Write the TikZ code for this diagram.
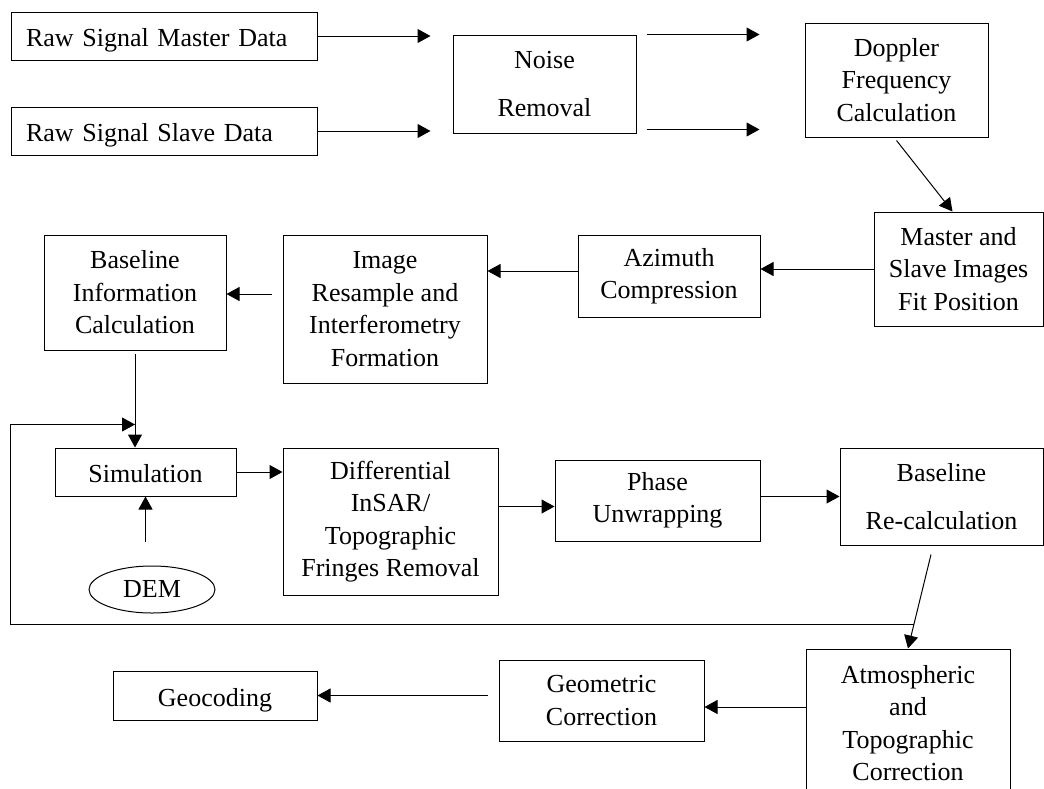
\documentclass[tikz,border=0pt]{standalone}
\usepackage{fontspec}
\setmainfont{Liberation Serif}
\usepackage{tikz}
\usetikzlibrary{shapes.geometric, positioning, arrows.meta, calc}

\begin{document}
\begin{tikzpicture}[
        x=1pt, y=-1pt,
        box/.style={draw, rectangle, align=center, inner sep=0pt, line width=1pt, font=\fontsize{26pt}{32.5pt}\selectfont},
        oneline/.style={text height=21pt, text depth=0pt},
        arr/.style={-{Triangle[length=13pt, width=14pt]}, line width=1pt}
    ]

    \useasboundingbox (0,0) rectangle (1044,788);

    \node[box, oneline, text width=276pt, inner xsep=15pt, minimum height=48pt, align=left] (master) at (164,36) {Raw Signal Master Data};
    \node[box, oneline, text width=276pt, inner xsep=15pt, minimum height=48pt, align=left] (slave) [below=46pt of master] {Raw Signal Slave Data};
    \node[box, minimum width=183pt, minimum height=98pt] (noise) [right=135pt of master, yshift=-48pt] {Noise\\[15.5pt]Removal};
    \node[box, minimum width=183pt, minimum height=114pt] (doppler) [right=168pt of noise, yshift=4pt] {Doppler\\Frequency\\Calculation};
    \node[box, minimum width=169pt, minimum height=114pt] (fit) [below=74pt of doppler, xshift=62pt] {Master and\\Slave Images\\Fit Position};
    \node[box, minimum width=182pt, minimum height=82pt] (azimuth) [left=113pt of fit, yshift=-7pt] {Azimuth\\Compression};
    \node[box, minimum width=204pt, minimum height=148pt] (image) [left=90pt of azimuth, yshift=-33pt] {Image\\Resample and\\Interferometry\\Formation};
    \node[box, minimum width=182pt, minimum height=115pt] (baseinfo) [left=56pt of image, yshift=16.5pt] {Baseline\\Information\\Calculation};
    \node[box, oneline, minimum width=181pt, minimum height=48pt] (sim) [below=97pt of baseinfo, xshift=10.5pt] {Simulation};
    \node[box, ellipse, minimum width=126pt, minimum height=47pt] (dem) [below=69pt of sim, xshift=6.5pt] {DEM};
    \node[box, minimum width=215pt, minimum height=147pt] (diff) [right=46pt of sim, yshift=-49.5pt] {Differential\\InSAR/\\Topographic\\Fringes Removal};
    \node[box, minimum width=205pt, minimum height=81pt] (phase) [right=56pt of diff, yshift=21pt] {Phase\\Unwrapping};
    \node[box, minimum width=203pt, minimum height=97pt] (recalc) [right=79pt of phase, yshift=4pt] {Baseline\\[15.5pt]Re-calculation};
    \node[box, minimum width=204pt, minimum height=148pt] (atmos) [below=103pt of recalc, xshift=-33.5pt] {Atmospheric\\and\\Topographic\\Correction};
    \node[box, minimum width=205pt, minimum height=81pt] (geometric) [left=101pt of atmos, yshift=22.5pt] {Geometric\\Correction};
    \node[box, oneline, minimum width=204pt, minimum height=49pt] (geocoding) [left=181pt of geometric, yshift=5pt] {Geocoding};

    \coordinate[right=113pt of master] (m-end);
    \coordinate[right=113pt of slave] (s-end);
    \coordinate[right=123pt of noise.north east] (n-top);
    \coordinate[right=123pt of noise.south east, yshift=4pt] (n-bot);
    \coordinate (rc-out) at ([xshift=-10.5pt, yshift=-9pt]recalc.south);
    \coordinate (fb) at ($(rc-out)!0.745!(atmos.north)$);
    \coordinate (loop) at ([xshift=-44pt, yshift=23pt]sim.north west);

    \draw[arr] (master) -- (m-end);
    \draw[arr] (slave) -- (s-end);
    \draw[arr] ([xshift=10pt]noise.north east) -- (n-top);
    \draw[arr] ([xshift=10pt, yshift=4pt]noise.south east) -- (n-bot);
    \draw[arr] ([yshift=-3pt]doppler.south) -- ([xshift=-6pt]fit.north);
    \draw[arr] (fit.west) -- (fit.west -| azimuth.east);
    \draw[arr] ([yshift=5pt]azimuth.west) -- ([yshift=5pt]azimuth.west -| image.east);
    \draw[arr] ([xshift=-11pt, yshift=15pt]image.west) -- ([yshift=15pt]image.west -| baseinfo.east);
    \draw[arr] ([yshift=-3pt]baseinfo.south) -- (baseinfo.south |- sim.north);
    \draw[arr] (fb) -| (loop) -- (loop -| baseinfo.south);
    \draw[arr] ([yshift=24pt]dem.north -| sim.south) -- (sim.south);
    \draw[arr] (sim.east) -- (sim.east -| diff.west);
    \draw[arr] ([yshift=15pt]diff.east) -- ([yshift=15pt]diff.east -| phase.west);
    \draw[arr] (phase.east |- recalc.west) -- (recalc.west);
    \draw[arr] (rc-out) -- (atmos.north);
    \draw[arr] ([yshift=16pt]atmos.west) -- ([yshift=16pt]atmos.west -| geometric.east);
    \draw[arr] ([xshift=-11pt]geometric.west |- geocoding.east) -- (geocoding.east);

\end{tikzpicture}
\end{document}
